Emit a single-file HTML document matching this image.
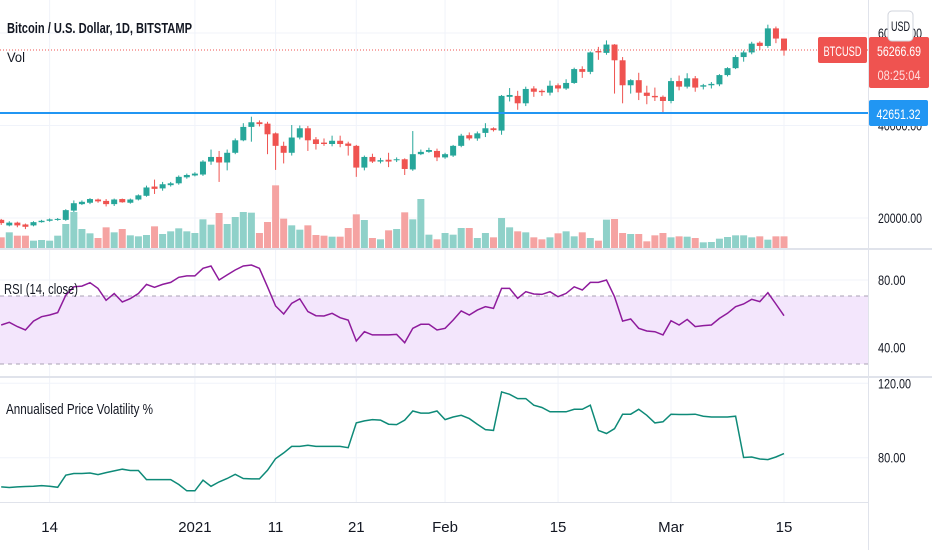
<!DOCTYPE html>
<html><head><meta charset="utf-8"><style>
html,body{margin:0;padding:0;background:#fff;}
svg{display:block;font-family:"Liberation Sans",sans-serif;}
</style></head><body>
<svg id="chart" width="932" height="550" viewBox="0 0 932 550" xmlns="http://www.w3.org/2000/svg">
<rect width="932" height="550" fill="#fff"/>
<g id="grid"></g>
<rect x="0" y="296" width="868" height="68" fill="#f3e6fc"/>
<line x1="0" x2="868" y1="296" y2="296" stroke="#a9a2b3" stroke-dasharray="4,4"/>
<line x1="0" x2="868" y1="364" y2="364" stroke="#a9a2b3" stroke-dasharray="4,4"/>
<g id="vols"></g>
<g id="candles"></g>
<line x1="0" x2="868" y1="50" y2="50" stroke="#ef5350" stroke-dasharray="1,2"/>
<line x1="0" x2="868" y1="113" y2="113" stroke="#2196f3" stroke-width="2"/>
<path id="rsiLine" fill="none" stroke="#8e1b9c" stroke-width="1.5"/>
<path id="volaLine" fill="none" stroke="#0e8a78" stroke-width="1.5"/>
<line x1="868.5" x2="868.5" y1="0" y2="550" stroke="#e0e3eb"/>
<line x1="0" x2="932" y1="249" y2="249" stroke="#e0e3eb" stroke-width="2"/>
<line x1="0" x2="932" y1="377" y2="377" stroke="#e0e3eb" stroke-width="2"/>
<line x1="0" x2="868" y1="502.5" y2="502.5" stroke="#e0e3eb"/>
<text x="7" y="33" font-size="15" fill="#131722" font-weight="bold" textLength="185" lengthAdjust="spacingAndGlyphs">Bitcoin / U.S. Dollar, 1D, BITSTAMP</text>
<text x="7" y="62" font-size="14" fill="#131722" textLength="18" lengthAdjust="spacingAndGlyphs">Vol</text>
<text x="4" y="294" font-size="15" fill="#131722" textLength="74" lengthAdjust="spacingAndGlyphs">RSI (14, close)</text>
<text x="6" y="414" font-size="15" fill="#131722" textLength="147" lengthAdjust="spacingAndGlyphs">Annualised Price Volatility %</text>
<g id="axisLabels" font-size="14" fill="#131722"></g>
<rect x="818" y="37" width="49" height="26" rx="2" fill="#ef5350"/>
<text x="842.5" y="56" font-size="14" fill="#fff" text-anchor="middle" textLength="38" lengthAdjust="spacingAndGlyphs">BTCUSD</text>
<rect x="869" y="37" width="60" height="51" rx="2" fill="#ef5350"/>
<text x="899" y="56" font-size="14" fill="#fff" text-anchor="middle" textLength="44" lengthAdjust="spacingAndGlyphs">56266.69</text>
<text x="899" y="80" font-size="14" fill="#fdd" text-anchor="middle" textLength="43" lengthAdjust="spacingAndGlyphs">08:25:04</text>
<rect x="869" y="100" width="59" height="26" rx="2" fill="#2196f3"/>
<text x="898.5" y="119" font-size="14" fill="#fff" text-anchor="middle" textLength="44" lengthAdjust="spacingAndGlyphs">42651.32</text>
<rect x="888" y="11" width="25" height="30" rx="4" fill="#fff" stroke="#d1d4dc"/>
<text x="900.5" y="31" font-size="14" fill="#131722" text-anchor="middle" textLength="19" lengthAdjust="spacingAndGlyphs">USD</text>
</svg>
<script>
const opens=[19600,18400,19000,18600,18400,19100,19400,19600,19600,21600,23000,23300,24000,23700,23000,24100,23300,24000,24800,26800,26400,27100,27500,28800,29200,29400,32200,33200,32000,34100,36800,39700,40700,40400,38300,35600,34100,37400,39400,37000,36300,36000,36700,36100,35600,30900,33200,32200,32600,32500,32700,30500,33800,34300,34500,33100,33500,35600,37900,37200,38400,39400,38900,46200,46400,44800,48000,47500,47100,48700,48000,49200,52200,51600,56100,55700,57500,54100,48700,49800,47100,46400,46200,45300,49600,48400,50200,48400,48700,48900,50900,52400,54800,55800,57900,57200,61000,58800];
const closes=[18900,19000,18400,18100,19100,19400,19700,19800,21700,23200,23500,24100,23600,23000,24000,23400,24000,24900,26600,26300,27300,27500,28900,29300,29600,32200,33200,32000,34100,36800,39700,40700,40300,38100,35600,34100,37400,39400,36800,36000,36000,36700,36000,35600,30900,33200,32200,32500,32200,32700,30600,33800,34300,34700,33100,33800,35600,37800,37200,38300,39400,39000,46400,46600,44800,47900,47300,47200,48600,48000,49200,52200,51600,55800,55800,57500,54100,48700,49800,47100,46400,46100,45300,49600,48400,50200,48200,48700,49000,50900,52400,54800,55800,57700,57200,61000,58800,56200];
const highs=[19800,19300,19200,18800,19300,19600,19900,20000,21900,23800,23800,24300,24200,24100,24200,24200,24200,25100,27000,28300,27800,27800,29200,29600,29900,32500,34800,34500,34800,37200,40500,41900,41100,40800,38500,36500,40100,40000,39900,37500,37200,37800,37800,36500,35800,33500,33900,33000,34100,33100,32900,38800,34800,35200,35000,34100,35800,38200,38500,38700,40500,39600,46600,48100,47500,48400,48500,47800,49700,49100,50000,52500,52800,56000,57000,58400,57600,54800,50000,51400,48600,48200,46500,50300,50800,51300,50700,49000,49400,51100,52600,55200,56200,58100,58200,61800,61400,57900];
const lows=[18500,18200,18000,17600,18200,19000,19200,19400,19400,21300,22800,23000,23300,22500,22600,23300,23100,23800,24600,25200,25900,26800,27200,28500,29000,29100,31500,27800,30300,33800,36600,36500,39800,33800,30400,31800,33500,37000,34500,34800,35600,35500,35300,33500,28900,30300,31900,31800,31000,32100,29300,30200,33600,34100,32300,32800,33200,35300,36800,36700,37500,38700,38000,45200,43400,44200,46200,46400,46500,47200,47700,49000,50300,51100,54200,55300,46900,44800,46900,45500,44600,45300,42900,44800,47600,48000,47300,47800,48000,48500,50600,52200,53800,55400,56300,56800,57800,55100];
const volumes=[32,47,37,37,22,24,22,37,72,108,57,44,30,62,47,57,38,35,39,65,42,50,59,50,45,86,70,105,72,93,108,106,45,78,188,88,68,55,68,39,37,34,34,60,101,84,30,26,53,57,107,86,147,40,26,45,40,60,60,30,45,32,90,62,50,47,32,26,32,44,50,35,47,30,22,85,87,45,42,42,20,38,45,32,35,34,30,17,18,28,33,38,38,32,35,25,35,35];
const rsi=[53.4,55,52.4,50.4,55.7,58.3,59.3,60.7,71,76,76.4,78.4,75,68,72,67,69,72,77.4,75.7,77.4,78.6,81.6,82.4,82.4,86.9,88.3,80,83,85.9,88.3,88.9,86.9,76,64.6,59.9,66.2,68.8,61.3,58.9,58.7,60.3,57.7,56.3,43.9,49.4,47.5,47.5,47.5,47.8,42.9,51.4,53.8,53.8,50.4,51.4,56.3,61.7,59.3,62.2,64.2,63.2,75,75,69.2,73.1,71.7,71.5,73.1,70.1,72.1,76,74.1,78.6,78.6,80,70.1,55.7,56.9,51.4,49.8,49.4,47.5,55.9,53.4,56.7,52.4,53,53.4,57.3,60.3,64.2,65.8,68.6,67.2,72.5,65.8,58.9];
const volatility=[64.3,64,64.3,64.5,64.6,65,64.6,64.1,70.6,71.5,71.5,71.8,70.9,72,72.9,73.8,73.1,73.1,68.2,68.2,68.2,68.2,65.6,62.2,62.2,67.9,64.6,67,68.8,71.1,68.8,68.6,68.6,73.2,79.5,82.6,86.1,86.1,86.7,86.1,86.1,86.1,86.1,85.4,98.7,99.8,100.5,100.2,98,97.8,100.2,105.1,104,104,105.1,100.5,101.9,102.8,101,98,95.1,94.7,115.4,114.1,111.8,111.8,108.2,107,104.7,104.7,104.7,106,106,108.2,94.7,93,95.6,103.4,103.4,106,102.8,98.7,99.3,103.4,103.2,103.2,103.4,102.3,101.9,101.9,101.9,102.3,80.1,80.4,79.3,79,80.4,82.2];
const priceTicks=[20000,40000,60000];
const rsiTicks=[40,80];
const volaTicks=[80,120];
const dateLabels=["14","2021","11","21","Feb","15","Mar","15"];
const dateIndex=[6,24,34,44,55,69,83,97];

const NS="http://www.w3.org/2000/svg";
const N=closes.length;
const xOf=i=>784-(N-1-i)*8.07;
const yPrice=p=>218-(p-20000)*0.004625;
const yRsi=r=>280+(80-r)*1.69;
const yVola=v=>457.7-(v-80)*1.86;
const yVol=v=>248-v/3;
function mk(tag,attrs,parent){const e=document.createElementNS(NS,tag);for(const k in attrs)e.setAttribute(k,attrs[k]);parent.appendChild(e);return e;}
const grid=document.getElementById('grid');
const axis=document.getElementById('axisLabels');
dateIndex.forEach((di,k)=>{
  const x=xOf(di);
  const l=mk('line',{x1:x,x2:x,y1:0,y2:502,stroke:'#f0f3fa'},grid);
  
  
  const t=mk('text',{x:x,y:532,'text-anchor':'middle','font-size':15},axis);
  t.textContent=dateLabels[k];
  
  
});
function hTicks(vals,yf,name){vals.forEach(v=>{
  const y=yf(v);
  const l=mk('line',{x1:0,x2:868,y1:y,y2:y,stroke:'#f0f3fa'},grid);
  
  
  const s=v.toFixed(2);
  const t=mk('text',{x:878,y:y+5,textLength:s.length*5.5,lengthAdjust:'spacingAndGlyphs'},axis);
  t.textContent=s;
  
  
});}
hTicks(priceTicks,yPrice,'price');
hTicks(rsiTicks,yRsi,'rsi');
hTicks(volaTicks,yVola,'volatility');
const vg=document.getElementById('vols'), cg=document.getElementById('candles');
for(let i=0;i<N;i++){
  const up=closes[i]>=opens[i];
  const col=up?'#26a69a':'#ef5350';
  const x=xOf(i);
  const vy=yVol(volumes[i]);
  const vb=mk('rect',{x:x-3.5,y:vy,width:7,height:248-vy,fill:up?'#8fd1c9':'#f5a3a2'},vg);
  
  
  const w=mk('line',{x1:x,x2:x,y1:yPrice(highs[i]),y2:yPrice(lows[i]),stroke:col,'stroke-width':1},cg);
  
  
  const t=yPrice(Math.max(opens[i],closes[i])), b=yPrice(Math.min(opens[i],closes[i]));
  const r=mk('rect',{x:x-3,y:t,width:6,height:Math.max(1,b-t),fill:col},cg);
  
  
}
document.getElementById('rsiLine').setAttribute('d',rsi.map((v,i)=>(i?'L':'M')+xOf(i).toFixed(1)+' '+yRsi(v).toFixed(1)).join(''));
document.getElementById('volaLine').setAttribute('d',volatility.map((v,i)=>(i?'L':'M')+xOf(i).toFixed(1)+' '+yVola(v).toFixed(1)).join(''));
</script>
</body></html>
